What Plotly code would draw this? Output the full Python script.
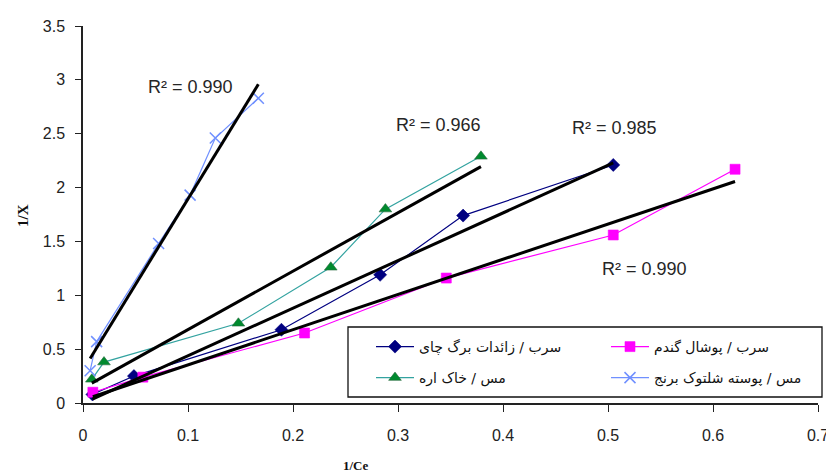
import numpy as np
import plotly.graph_objects as go

# ---- data ----
pb_tea_x = [0.009, 0.0485, 0.189, 0.283, 0.362, 0.505]
pb_tea_y = [0.08, 0.25, 0.68, 1.19, 1.74, 2.21]

pb_wheat_x = [0.0094, 0.057, 0.211, 0.346, 0.505, 0.621]
pb_wheat_y = [0.10, 0.24, 0.65, 1.16, 1.56, 2.17]

cu_saw_x = [0.0084, 0.020, 0.148, 0.236, 0.288, 0.379]
cu_saw_y = [0.22, 0.38, 0.74, 1.26, 1.80, 2.29]

cu_rice_x = [0.0068, 0.013, 0.072, 0.102, 0.126, 0.167]
cu_rice_y = [0.30, 0.57, 1.48, 1.93, 2.46, 2.83]

names = ["سرب / زائدات برگ چای", "سرب / پوشال گندم", "مس / خاک اره", "مس / پوسته شلتوک برنج"]
r2_labels = ["R² = 0.990", "R² = 0.966", "R² = 0.985", "R² = 0.990"]
r2_x = [0.1026, 0.339, 0.506, 0.535]
r2_y = [2.935, 2.58, 2.553, 1.244]

x_ticks = [0, 0.1, 0.2, 0.3, 0.4, 0.5, 0.6, 0.7]
x_ticklabels = ["0", "0.1", "0.2", "0.3", "0.4", "0.5", "0.6", "0.7"]
y_ticks = [0, 0.5, 1, 1.5, 2, 2.5, 3, 3.5]
y_ticklabels = ["0", "0.5", "1", "1.5", "2", "2.5", "3", "3.5"]

# page body has an 8px margin: figure spans viewport 8..834 / 8..473
PL, PR, PT, PB = 83, 818, 26, 403   # plot area in viewport pixels
def px(v):  # viewport x -> paper
    return (v - PL) / (PR - PL)
def py(v):  # viewport y -> paper
    return (PB - v) / (PB - PT)

fig = go.Figure()

series = [
    (pb_tea_x, pb_tea_y, names[0], "#000080", "#000080", "diamond", 10, "legend"),
    (pb_wheat_x, pb_wheat_y, names[1], "#ff00ff", "#ff00ff", "square", 10, "legend"),
    (cu_saw_x, cu_saw_y, names[2], "#33a3a0", "#008a2e", "triangle-up", 11, "legend2"),
    (cu_rice_x, cu_rice_y, names[3], "#7090ff", "#7090ff", "x-thin", 11, "legend2"),
]

for xs, ys, nm, lc, mc, sym, ms, lg in series:
    mline = dict(width=1.5, color=mc) if sym == "x-thin" else dict(width=0.6, color="#2a6a40" if sym == "triangle-up" else mc)
    fig.add_trace(go.Scatter(
        x=xs, y=ys, name=nm, mode="lines+markers", legend=lg,
        line=dict(color=lc, width=1.2),
        marker=dict(symbol=sym, size=ms, color=mc, line=mline),
    ))

# linear trendlines (least squares) drawn on top, over each series' x range
for xs, ys, *_ in series:
    a, b = np.polyfit(xs, ys, 1)
    tx = [min(xs), max(xs)]
    fig.add_trace(go.Scatter(
        x=tx, y=[a * v + b for v in tx], mode="lines",
        line=dict(color="black", width=3), showlegend=False, hoverinfo="skip",
    ))

for t, xx, yy in zip(r2_labels, r2_x, r2_y):
    fig.add_annotation(x=xx, y=yy, text=t, showarrow=False,
                       font=dict(family="Liberation Sans, Arial", size=18, color="#262626"))

# axis titles
fig.add_annotation(xref="paper", yref="paper", x=px(356), y=py(456),
                   text="<b>1/Ce</b>", showarrow=False, xanchor="center", yanchor="top",
                   font=dict(family="Liberation Serif, Times New Roman", size=13, color="#111"))
fig.add_annotation(xref="paper", yref="paper", x=px(23), y=py(216),
                   text="<b>1/X</b>", showarrow=False, textangle=-90, xanchor="center", yanchor="middle",
                   font=dict(family="Liberation Serif, Times New Roman", size=15, color="#111"))

# right grey strip and legend box
fig.add_shape(type="rect", xref="paper", yref="paper", layer="below",
              x0=px(828), x1=px(840), y0=py(480), y1=py(0),
              line=dict(width=0), fillcolor="#f0f0f0")
fig.add_shape(type="rect", xref="paper", yref="paper", layer="above",
              x0=px(348), x1=px(822), y0=py(397), y1=py(327),
              line=dict(width=1.3, color="#111"), fillcolor="rgba(0,0,0,0)")

leg_common = dict(orientation="h", xanchor="left", yanchor="middle",
                  bgcolor="rgba(0,0,0,0)", borderwidth=0, itemwidth=38,
                  entrywidth=182, entrywidthmode="pixels", tracegroupgap=0,
                  font=dict(family="DejaVu Sans", size=14, color="#111"))
fig.update_layout(
    width=826, height=465,
    margin=dict(l=PL - 8, r=826 - (PR - 8), t=PT - 8, b=465 - (PB - 8), autoexpand=False),
    paper_bgcolor="white", plot_bgcolor="white",
    showlegend=True,
    legend=dict(x=px(371), y=py(347), **leg_common),
    legend2=dict(x=px(371), y=py(378), **leg_common),
    xaxis=dict(range=[0, 0.7], tickvals=x_ticks, ticktext=x_ticklabels,
               showgrid=False, zeroline=False, showline=True, linecolor="#222", linewidth=1.5,
               ticks="outside", ticklen=7, tickwidth=1.2, tickcolor="#222", ticklabelstandoff=10,
               tickfont=dict(family="Liberation Sans, Arial", size=16, color="#222")),
    yaxis=dict(range=[0, 3.5], tickvals=y_ticks, ticktext=y_ticklabels,
               showgrid=False, zeroline=False, showline=True, linecolor="#222", linewidth=1.5,
               ticks="outside", ticklen=6, tickwidth=1.2, tickcolor="#222", ticklabelstandoff=7,
               tickfont=dict(family="Liberation Sans, Arial", size=16, color="#222")),
)

fig.write_html("out.html")
